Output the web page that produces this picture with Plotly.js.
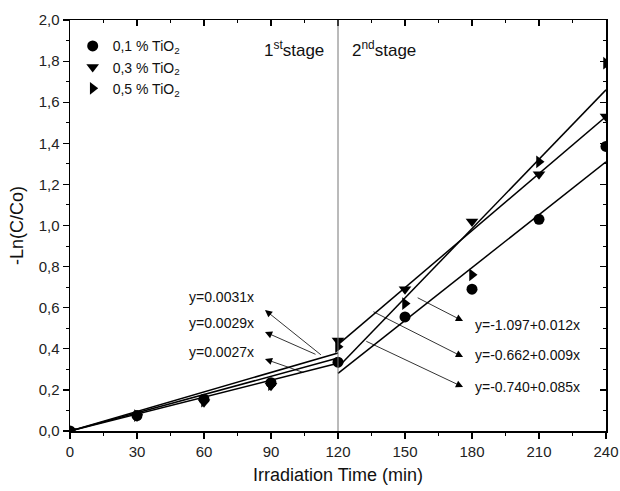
<!DOCTYPE html>
<html><head><meta charset="utf-8">
<script src="https://cdn.plot.ly/plotly-3.0.1.min.js"></script>
<style>html,body{margin:0;padding:0;background:#fff}#chart{width:620px;height:491px}</style>
</head><body><div id="chart"></div>
<script>
// ---- data ----
const time = [0, 30, 60, 90, 120, 150, 180, 210, 240];
const tio2_01 = [0, 0.075, 0.155, 0.235, 0.335, 0.555, 0.69, 1.03, 1.385];
const tio2_03 = [0, 0.07, 0.14, 0.22, 0.44, 0.69, 1.02, 1.25, 1.53];
const tio2_05 = [0, 0.075, 0.145, 0.225, 0.41, 0.62, 0.76, 1.31, 1.79];
const seriesNames = ['0,1 % TiO<sub>2</sub>', '0,3 % TiO<sub>2</sub>', '0,5 % TiO<sub>2</sub>'];

// fitted lines (end points)
const stage1X = [0, 120];
const stage1_a = [0, 0.38];
const stage1_b = [0, 0.355];
const stage1_c = [0, 0.33];
const stage2X = [120, 240];
const stage2_01 = [0.28, 1.31];
const stage2_03 = [0.42, 1.53];
const stage2_05 = [0.31, 1.66];

const stage1Labels = ['y=0.0031x', 'y=0.0029x', 'y=0.0027x'];
const stage2Labels = ['y=-1.097+0.012x', 'y=-0.662+0.009x', 'y=-0.740+0.085x'];

const xTicks = [0, 30, 60, 90, 120, 150, 180, 210, 240];
const yTicks = [0, 0.2, 0.4, 0.6, 0.8, 1.0, 1.2, 1.4, 1.6, 1.8, 2.0];
const yTickText = ['0,0','0,2','0,4','0,6','0,8','1,0','1,2','1,4','1,6','1,8','2,0'];

// ---- traces ----
const mk = (sym) => ({symbol: sym, size: 11, color: '#000'});
const traces = [
  {x: time, y: tio2_01, mode: 'markers', name: seriesNames[0], marker: mk('circle')},
  {x: time, y: tio2_03, mode: 'markers', name: seriesNames[1], marker: mk('triangle-down')},
  {x: time, y: tio2_05, mode: 'markers', name: seriesNames[2], marker: mk('triangle-right')},
];
const lineStyle = {color: '#000', width: 1.5};
[[stage1X, stage1_a], [stage1X, stage1_b], [stage1X, stage1_c],
 [stage2X, stage2_01], [stage2X, stage2_03], [stage2X, stage2_05]].forEach(([xs, ys]) => {
  traces.push({x: xs, y: ys, mode: 'lines', line: lineStyle, showlegend: false, hoverinfo: 'skip'});
});

const fnt = 'Liberation Sans, Arial, sans-serif';
const annFont = {family: fnt, size: 14, color: '#111'};
const annotations = [];
// stage-1 labels and arrows
const s1y = [0.652, 0.526, 0.384];
const s1head = [[87.3, 0.589], [87.3, 0.482], [87.3, 0.350]];
const s1tail = [[113, 0.365], [110.6, 0.37], [105.2, 0.282]];
stage1Labels.forEach((t, i) => {
  annotations.push({x: 68, y: s1y[i], xref: 'x', yref: 'y', text: t, showarrow: false, font: annFont});
  annotations.push({x: s1head[i][0], y: s1head[i][1], ax: s1tail[i][0], ay: s1tail[i][1],
    xref: 'x', yref: 'y', axref: 'x', ayref: 'y', text: '', showarrow: true,
    arrowhead: 2, arrowsize: 1.8, arrowwidth: 0.8, arrowcolor: '#000'});
});
// stage-2 labels and arrows
const s2y = [0.516, 0.370, 0.214];
const s2head = [[176, 0.535], [176, 0.360], [176, 0.214]];
const s2tail = [[155, 0.652], [135.2, 0.584], [132, 0.44]];
stage2Labels.forEach((t, i) => {
  annotations.push({x: 180.5, y: s2y[i], xref: 'x', yref: 'y', xanchor: 'left', text: t, showarrow: false, font: annFont});
  annotations.push({x: s2head[i][0], y: s2head[i][1], ax: s2tail[i][0], ay: s2tail[i][1],
    xref: 'x', yref: 'y', axref: 'x', ayref: 'y', text: '', showarrow: true,
    arrowhead: 2, arrowsize: 1.8, arrowwidth: 0.8, arrowcolor: '#000'});
});
annotations.push({x: 114.5, y: 1.86, xref: 'x', yref: 'y', xanchor: 'right', text: '1<sup>st</sup>stage', showarrow: false, font: {family: fnt, size: 17, color: '#111'}});
annotations.push({x: 125.5, y: 1.86, xref: 'x', yref: 'y', xanchor: 'left', text: '2<sup>nd</sup>stage', showarrow: false, font: {family: fnt, size: 17, color: '#111'}});

const tickFont = {family: fnt, size: 15, color: '#222'};
const layout = {
  width: 620, height: 491,
  margin: {l: 70, r: 14, t: 20, b: 60},
  paper_bgcolor: '#fff', plot_bgcolor: '#fff',
  showlegend: true,
  legend: {x: 0.005, y: 0.975, xanchor: 'left', yanchor: 'top', bgcolor: 'rgba(0,0,0,0)',
           font: {family: fnt, size: 14, color: '#111'}, tracegroupgap: 0},
  xaxis: {range: [0, 240], tickvals: xTicks, ticks: 'outside', ticklen: 6, tickwidth: 1.2, tickcolor: '#000',
          minor: {dtick: 15, ticks: 'outside', ticklen: 3, tickwidth: 1, tickcolor: '#000'},
          showline: true, linecolor: '#000', linewidth: 1.5, mirror: true, showgrid: false, zeroline: false,
          tickfont: tickFont,
          title: {text: 'Irradiation Time (min)', font: {family: fnt, size: 18, color: '#111'}, standoff: 10}},
  yaxis: {range: [0, 2.0], tickvals: yTicks, ticktext: yTickText, ticks: 'outside', ticklen: 6, tickwidth: 1.2, tickcolor: '#000',
          minor: {dtick: 0.1, ticks: 'outside', ticklen: 3, tickwidth: 1, tickcolor: '#000'},
          showline: true, linecolor: '#000', linewidth: 1.5, mirror: true, showgrid: false, zeroline: false,
          tickfont: tickFont,
          title: {text: '-Ln(C/Co)', font: {family: fnt, size: 18, color: '#111'}, standoff: 10}},
  xaxis2: {overlaying: 'x', side: 'top', range: [0, 240], tickvals: xTicks, ticks: 'inside', ticklen: 6, tickwidth: 1.2, tickcolor: '#000',
           minor: {dtick: 15, ticks: 'inside', ticklen: 3, tickwidth: 1, tickcolor: '#000'},
           showticklabels: false, showgrid: false, zeroline: false, showline: false},
  yaxis2: {overlaying: 'y', side: 'right', range: [0, 2.0], tickvals: yTicks, ticks: 'inside', ticklen: 6, tickwidth: 1.2, tickcolor: '#000',
           minor: {dtick: 0.1, ticks: 'inside', ticklen: 3, tickwidth: 1, tickcolor: '#000'},
           showticklabels: false, showgrid: false, zeroline: false, showline: false},
  shapes: [{type: 'line', xref: 'x', yref: 'paper', x0: 120, x1: 120, y0: 0, y1: 1, line: {color: '#777', width: 1}}],
  annotations: annotations
};
// invisible trace so the mirrored axes are drawn
traces.push({x: [0], y: [0], xaxis: 'x2', yaxis: 'y2', mode: 'markers', marker: {opacity: 0}, showlegend: false, hoverinfo: 'skip'});
Plotly.newPlot('chart', traces, layout, {displayModeBar: false, staticPlot: true});
</script></body></html>
